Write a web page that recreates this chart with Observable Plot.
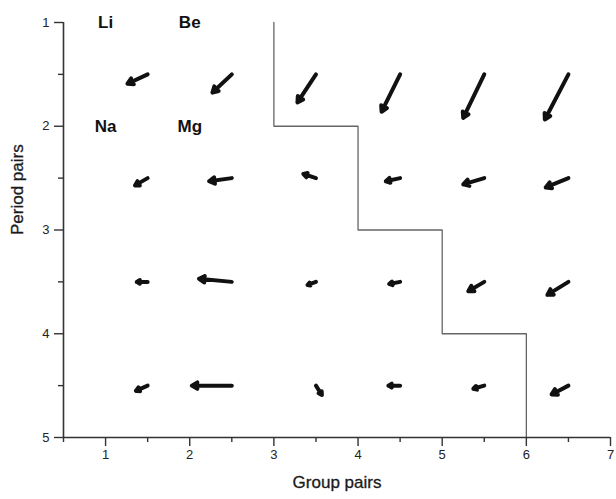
<!DOCTYPE html>
<html>
<head>
<meta charset="utf-8">
<script src="https://cdn.jsdelivr.net/npm/d3@7"></script>
<script src="https://cdn.jsdelivr.net/npm/@observablehq/plot@0.6"></script>
<style>
  html, body { margin: 0; padding: 0; background: #fff; }
</style>
</head>
<body>
<div id="chart"></div>
<script>
// ---- data ----
const xDomain = [0.5, 7];
const yDomain = [1, 5];
const xMajor = [1, 2, 3, 4, 5, 6, 7];
const xMinor = [0.5, 1.5, 2.5, 3.5, 4.5, 5.5, 6.5];
const yMajor = [1, 2, 3, 4, 5];
const yMinor = [1.5, 2.5, 3.5, 4.5];

const elements = ["Li", "Be", "Na", "Mg"];
const elementX = [1, 2, 1, 2];
const elementY = [1, 1, 2, 2];

// boundary staircase
const stepX = [3, 3, 4, 4, 5, 5, 6, 6];
const stepY = [1, 2, 2, 3, 3, 4, 4, 5];

// arrow tails (cell centres) and displacements
const groupPairs = [1.5, 2.5, 3.5, 4.5, 5.5, 6.5];
const periodPairs = [1.5, 2.5, 3.5, 4.5];
const arrowDx = [
  [-0.24, -0.23, -0.22, -0.22, -0.25, -0.28],
  [-0.15, -0.27, -0.15, -0.17, -0.25, -0.27],
  [-0.13, -0.39, -0.10, -0.13, -0.19, -0.25],
  [-0.14, -0.475, 0.07, -0.14, -0.13, -0.20]
];
const arrowDy = [
  [0.09, 0.175, 0.27, 0.36, 0.42, 0.435],
  [0.07, 0.03, -0.04, 0.03, 0.06, 0.09],
  [0.0, -0.03, 0.03, 0.02, 0.09, 0.125],
  [0.05, 0.0, 0.09, 0.0, 0.03, 0.085]
];

// ---- build tables ----
const arrows = [];
periodPairs.forEach((py, r) => {
  groupPairs.forEach((gx, c) => {
    arrows.push({x1: gx, y1: py, x2: gx + arrowDx[r][c], y2: py + arrowDy[r][c]});
  });
});
const labels = elements.map((t, i) => ({t, x: elementX[i], y: elementY[i]}));
const steps = stepX.map((x, i) => ({x, y: stepY[i]}));

const axisColor = "#333";
const fmt = d => String(d);
const chart = Plot.plot({
  width: 616,
  height: 499,
  marginLeft: 63,
  marginRight: 6,
  marginTop: 22,
  marginBottom: 62,
  style: {fontFamily: "'Liberation Sans', Arial, sans-serif", fontSize: "13px", color: "#222", background: "#fff", overflow: "visible"},
  x: {domain: xDomain},
  y: {domain: yDomain, reverse: true},
  marks: [
    Plot.line(steps, {x: "x", y: "y", stroke: "#666", strokeWidth: 1.3}),
    Plot.arrow(arrows, {x1: "x1", y1: "y1", x2: "x2", y2: "y2", stroke: "#111", strokeWidth: 4, headLength: 2.4, headAngle: 60, strokeLinecap: "round", strokeLinejoin: "round"}),
    Plot.text(labels, {x: "x", y: "y", text: "t", fontSize: 17, fontWeight: "bold", fill: "#111"}),
    Plot.ruleX([xDomain[0]], {stroke: axisColor, strokeWidth: 1.6}),
    Plot.ruleY([yDomain[1]], {stroke: axisColor, strokeWidth: 1.6}),
    Plot.axisX({ticks: xMajor, tickSize: 9, tickPadding: 3, tickFormat: fmt, label: null, stroke: axisColor, strokeWidth: 1.4, fontSize: 13}),
    Plot.axisX({ticks: xMinor, tickSize: 5, tickFormat: () => "", label: null, stroke: axisColor, strokeWidth: 1.4}),
    Plot.axisY({ticks: yMajor, tickSize: 9, tickPadding: 5, tickFormat: fmt, label: null, stroke: axisColor, strokeWidth: 1.4, fontSize: 13}),
    Plot.axisY({ticks: yMinor, tickSize: 5, tickFormat: () => "", label: null, stroke: axisColor, strokeWidth: 1.4}),
    Plot.text(["Group pairs"], {frameAnchor: "bottom", dy: 50, text: d => d, fontSize: 17, fill: "#1a1a1a", stroke: "#1a1a1a", strokeWidth: 0.3}),
    Plot.text(["Period pairs"], {frameAnchor: "left", dx: -46, dy: 5, rotate: -90, text: d => d, fontSize: 17, fill: "#1a1a1a", stroke: "#1a1a1a", strokeWidth: 0.3})
  ]
});
document.getElementById("chart").appendChild(chart);
</script>
</body>
</html>
